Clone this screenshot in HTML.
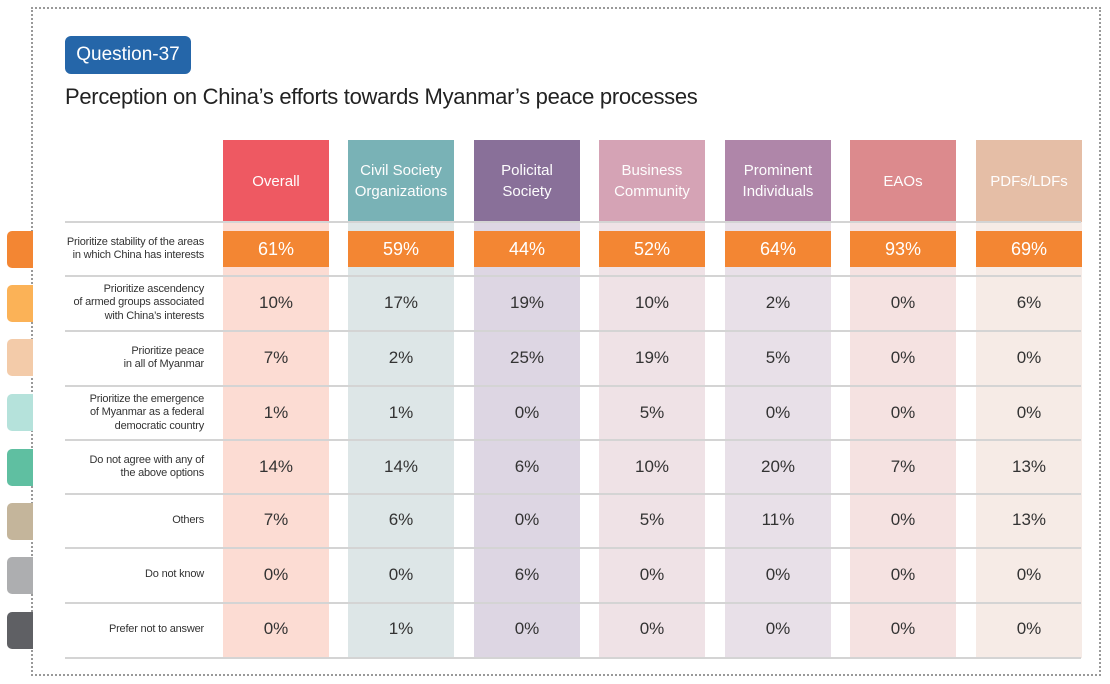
<!DOCTYPE html>
<html><head><meta charset="utf-8"><style>
body{margin:0;width:1110px;height:684px;background:#fff;position:relative;overflow:hidden;font-family:"Liberation Sans",sans-serif;color:#333}
.a{position:absolute}
.frame{left:31px;top:7px;width:1070px;height:669px;border:2px dotted #999;border-right:2px dotted #999;box-sizing:border-box}
.sw{position:absolute;left:7px;width:26px;height:37px;border-radius:5px 0 0 5px}
.col{position:absolute;top:140px;width:106px;height:518px}
.hd{position:absolute;top:140px;width:106px;height:82px;color:#fff;font-size:15px;line-height:21px;display:flex;align-items:center;justify-content:center;text-align:center;opacity:.95}
.sep{position:absolute;left:65px;width:1016px;height:2px;background:#d4d4d4}
.lbl{position:absolute;right:906px;font-size:11px;line-height:13.5px;text-align:right;color:#333;display:flex;align-items:center;justify-content:flex-end;height:54px;letter-spacing:-0.2px}
.v{position:absolute;width:106px;text-align:center;font-size:17px;height:54px;line-height:54px}
.or{position:absolute;top:231px;height:36px;width:106px;background:#f38633;color:#fff;font-size:18px;line-height:36px;text-align:center}
</style></head><body>
<div class="a frame"></div>
<div class="sw" style="top:231px;background:#f38633"></div>
<div class="sw" style="top:285px;background:#fbb257"></div>
<div class="sw" style="top:339px;background:#f3cba9"></div>
<div class="sw" style="top:394px;background:#b5e2db"></div>
<div class="sw" style="top:449px;background:#5fbfa1"></div>
<div class="sw" style="top:503px;background:#c4b59b"></div>
<div class="sw" style="top:557px;background:#adaeb0"></div>
<div class="sw" style="top:612px;background:#5f6064"></div>

<div class="a" style="left:65px;top:36px;width:126px;height:38px;background:#2566a9;border-radius:6px;color:#fff;font-size:19px;line-height:38px;text-align:center">Question-37</div>
<div class="a" style="left:65px;top:84px;font-size:22px;color:#222;letter-spacing:-0.3px">Perception on China’s efforts towards Myanmar’s peace processes</div>

<div class="col" style="left:223px;background:#fcdcd3"></div>
<div class="col" style="left:348px;background:#dde6e7"></div>
<div class="col" style="left:474px;background:#ddd6e3"></div>
<div class="col" style="left:599px;background:#efe2e6"></div>
<div class="col" style="left:725px;background:#e8e0e8"></div>
<div class="col" style="left:850px;background:#f5e2e1"></div>
<div class="col" style="left:976px;background:#f6ebe6"></div>

<div class="hd" style="left:223px;background:#ee525d">Overall</div>
<div class="hd" style="left:348px;background:#74b0b4">Civil Society<br>Organizations</div>
<div class="hd" style="left:474px;background:#856b96">Policital<br>Society</div>
<div class="hd" style="left:599px;background:#d4a0b3">Business<br>Community</div>
<div class="hd" style="left:725px;background:#ad82a6">Prominent<br>Individuals</div>
<div class="hd" style="left:850px;background:#db8689">EAOs</div>
<div class="hd" style="left:976px;background:#e5bca3">PDFs/LDFs</div>

<div class="sep" style="top:221px"></div>
<div class="sep" style="top:275px"></div>
<div class="sep" style="top:330px"></div>
<div class="sep" style="top:385px"></div>
<div class="sep" style="top:439px"></div>
<div class="sep" style="top:493px"></div>
<div class="sep" style="top:547px"></div>
<div class="sep" style="top:602px"></div>
<div class="sep" style="top:657px"></div>

<div class="lbl" style="top:222px">Prioritize stability of the areas<br>in which China has interests</div>
<div class="lbl" style="top:276px">Prioritize ascendency<br>of armed groups associated<br>with China’s interests</div>
<div class="lbl" style="top:331px">Prioritize peace<br>in all of Myanmar</div>
<div class="lbl" style="top:386px">Prioritize the emergence<br>of Myanmar as a federal<br>democratic country</div>
<div class="lbl" style="top:440px">Do not agree with any of<br>the above options</div>
<div class="lbl" style="top:494px">Others</div>
<div class="lbl" style="top:548px">Do not know</div>
<div class="lbl" style="top:603px">Prefer not to answer</div>

<div class="or" style="left:223px">61%</div>
<div class="or" style="left:348px">59%</div>
<div class="or" style="left:474px">44%</div>
<div class="or" style="left:599px">52%</div>
<div class="or" style="left:725px">64%</div>
<div class="or" style="left:850px">93%</div>
<div class="or" style="left:976px">69%</div>

<div id="vals"></div>
<script>
var d=[[10,17,19,10,2,0,6],[7,2,25,19,5,0,0],[1,1,0,5,0,0,0],[14,14,6,10,20,7,13],[7,6,0,5,11,0,13],[0,0,6,0,0,0,0],[0,1,0,0,0,0,0]];
var xs=[223,348,474,599,725,850,976],ys=[276,331,386,440,493,548,602],h='';
d.forEach(function(r,i){r.forEach(function(v,j){h+='<div class="v" style="left:'+xs[j]+'px;top:'+ys[i]+'px">'+v+'%</div>';});});
document.getElementById('vals').innerHTML=h;
</script>
</body></html>
